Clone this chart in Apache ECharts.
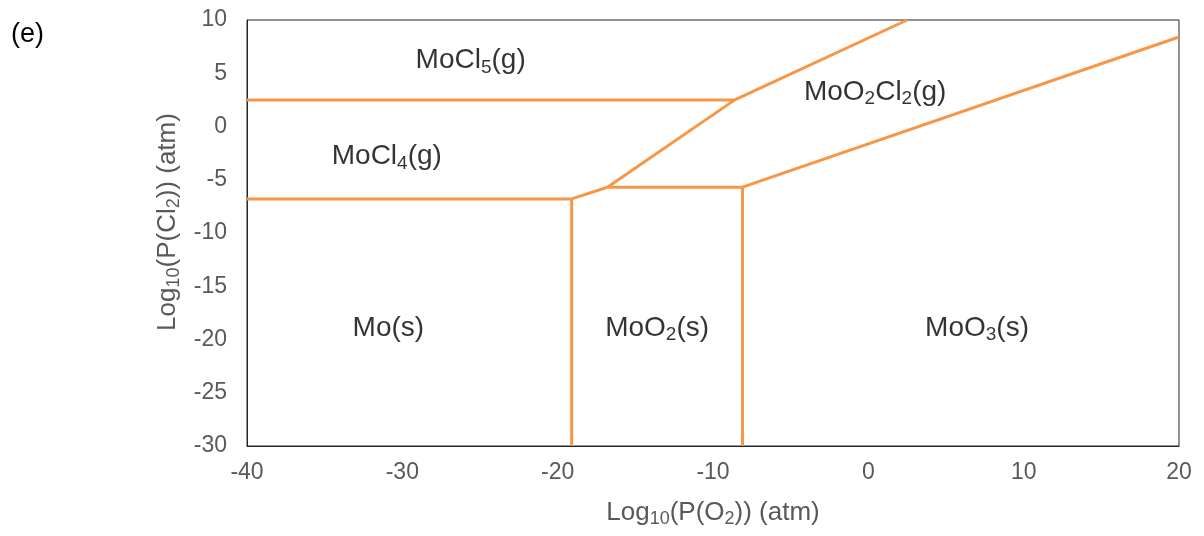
<!DOCTYPE html>
<html><head><meta charset="utf-8">
<script src="https://cdn.jsdelivr.net/npm/echarts@6/dist/echarts.min.js"></script>
<style>html,body{margin:0;padding:0;background:#fff}#c{width:1204px;height:536px}</style>
</head><body><div id="c"></div>
<script>
// Phase boundaries [log10 P(O2), log10 P(Cl2)]
const moCl5MoCl4 = [[-40, 2.5], [-8.6, 2.5]];
const moCl4Mo = [[-40, -6.8], [-19.1, -6.8]];
const moMoO2 = [[-19.1, -30], [-19.1, -6.8]];
const moCl4MoO2 = [[-19.1, -6.8], [-16.8, -5.7]];
const moO2Top = [[-16.8, -5.7], [-8.1, -5.7]];
const moO2MoO3 = [[-8.1, -30], [-8.1, -5.7]];
const moCl4MoO2Cl2 = [[-16.8, -5.7], [-8.6, 2.5], [2.5, 10]];
const moO2Cl2MoO3 = [[-8.1, -5.7], [20, 8.4]];
const boundaries = [moCl5MoCl4, moCl4Mo, moMoO2, moCl4MoO2, moO2Top, moO2MoO3, moCl4MoO2Cl2, moO2Cl2MoO3];
// Region labels: rich text, anchor in data coordinates
const regionLabels = [
  {text: 'MoCl{s|5}(g)', at: [-25.6, 6.2]},
  {text: 'MoCl{s|4}(g)', at: [-31.0, -2.8]},
  {text: 'MoO{s|2}Cl{s|2}(g)', at: [0.44, 3.25]},
  {text: 'Mo(s)', at: [-30.9, -18.9]},
  {text: 'MoO{s|2}(s)', at: [-13.6, -18.9]},
  {text: 'MoO{s|3}(s)', at: [7.0, -18.9]}
];
const xTicks = [-40, 20, 10];
const yTicks = [-30, 10, 5];
const FONT = '"Liberation Sans", Arial, sans-serif';
const chart = echarts.init(document.getElementById('c'));
const series = boundaries.map(d => ({
  type: 'line', data: d, symbol: 'none', silent: true,
  lineStyle: {color: '#F79646', width: 3}
}));
series.push({
  type: 'scatter', symbolSize: 0, silent: true,
  data: regionLabels.map(r => ({value: r.at, label: {formatter: r.text}})),
  label: {show: true, position: 'inside', color: '#000', fontSize: 28, fontFamily: FONT,
    rich: {s: {fontSize: 19, verticalAlign: 'bottom', padding: [14, 0, 0, 0], fontFamily: FONT, color: '#000'}}}
});
const subStyle = {fontSize: 18, color: '#595959', fontFamily: FONT, verticalAlign: 'bottom', padding: [12, 0, 0, 0]};
chart.setOption({
  animation: false,
  grid: {left: 247, right: 25, top: 20, bottom: 90, show: true, borderColor: '#262626', borderWidth: 1},
  graphic: [{type: 'text', left: 11, top: 21, style: {text: '(e)', fontSize: 27, fontFamily: FONT, fill: '#000'}}],
  xAxis: {type: 'value', min: xTicks[0], max: xTicks[1], interval: xTicks[2],
    axisLine: {show: true, onZero: false, lineStyle: {color: '#262626'}}, axisTick: {show: false}, splitLine: {show: false},
    axisLabel: {color: '#595959', fontSize: 23, fontFamily: FONT, margin: 15},
    name: 'Log{s|10}(P(O{s|2})) (atm)', nameLocation: 'middle', nameGap: 52,
    nameTextStyle: {color: '#595959', fontSize: 26, fontFamily: FONT, rich: {s: subStyle}}},
  yAxis: {type: 'value', min: yTicks[0], max: yTicks[1], interval: yTicks[2],
    axisLine: {show: true, onZero: false, lineStyle: {color: '#262626'}}, axisTick: {show: false}, splitLine: {show: false},
    axisLabel: {color: '#595959', fontSize: 23, fontFamily: FONT, margin: 20},
    name: 'Log{s|10}(P(Cl{s|2})) (atm)', nameLocation: 'middle', nameGap: 61,
    nameTextStyle: {color: '#595959', fontSize: 26, fontFamily: FONT, padding: [0, 0, 0, 22], rich: {s: subStyle}}},
  series: series
});
</script></body></html>
